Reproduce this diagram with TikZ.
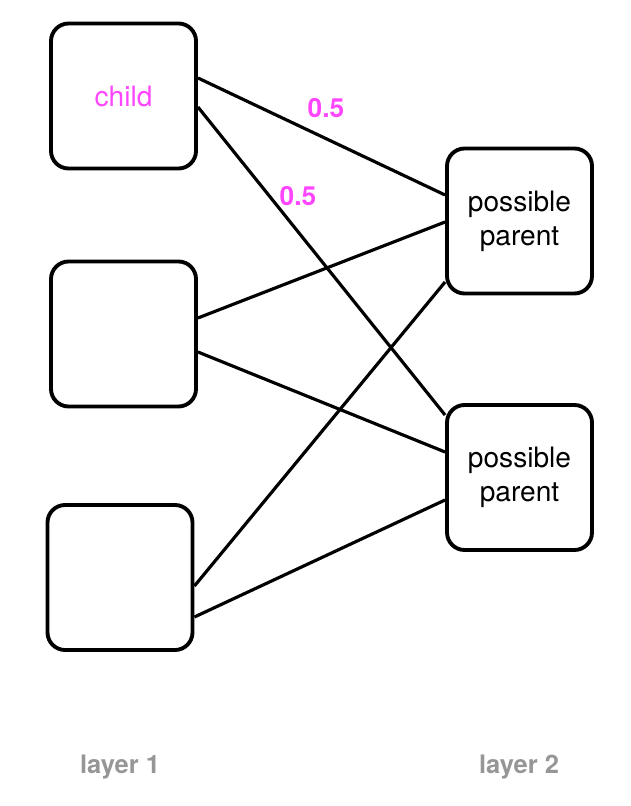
\documentclass[tikz,border=0pt]{standalone}
\usepackage{fontspec}
\setmainfont{TeX Gyre Heros}
\usetikzlibrary{positioning}
\definecolor{mpink}{RGB}{255, 70, 255}
\definecolor{mgray}{RGB}{150, 150, 150}

\begin{document}
\begin{tikzpicture}[
    unit/.style={draw, line width=2.2pt, rounded corners=10pt, minimum width=2.9cm, minimum height=2.9cm, align=center, font=\fontsize{16}{19.5}\selectfont},
    link/.style={line width=1.8pt},
    weight/.style={text=mpink, font=\fontsize{15}{18}\selectfont\bfseries},
    layer/.style={text=mgray, font=\fontsize{14.5}{17}\selectfont\bfseries}
  ]
    \useasboundingbox (0, 0) rectangle (12.6, -16.12);

    \node [unit, text=mpink] (child) at (2.47, -1.92) {child};
    \node [unit] (mid) at (2.47, -6.68) {};
    \node [unit] (low) at (2.40, -11.55) {};

    \node [unit] (par1) at (10.39, -4.42) {possible\\parent};
    \node [unit] (par2) at (10.39, -9.55) {possible\\parent};

    \draw [link] ([yshift=0.36cm]child.east) -- ([yshift=0.52cm]par1.west);
    \draw [link] ([yshift=-0.22cm]child.east) -- ([yshift=1.25cm]par2.west);
    \draw [link] ([yshift=0.32cm]mid.east) -- ([yshift=-0.02cm]par1.west);
    \draw [link] ([yshift=-0.36cm]mid.east) -- ([yshift=0.51cm]par2.west);
    \draw [link] ([yshift=-0.17cm]low.east) -- ([yshift=-1.22cm]par1.west);
    \draw [link] ([yshift=-0.79cm]low.east) -- ([yshift=-0.45cm]par2.west);

    \node [weight] (w1) at (6.52, -2.16) {0.5};
    \node [weight] (w2) at (5.96, -3.92) {0.5};

    \node [layer] (lay1) at (2.40, -15.34) {layer 1};
    \node [layer] (lay2) at (10.38, -15.34) {layer 2};
  \end{tikzpicture}
\end{document}
